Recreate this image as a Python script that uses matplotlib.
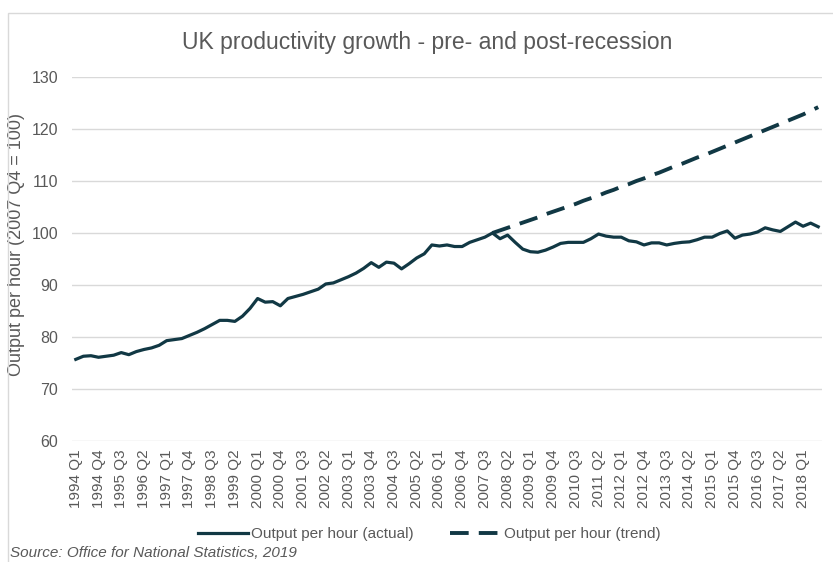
import numpy as np
import matplotlib.pyplot as plt
from matplotlib.patches import Rectangle

plt.rcParams['font.family'] = ['Liberation Sans', 'DejaVu Sans']

# quarters 1994 Q1 .. 2018 Q3
quarters = [f"{y} Q{q}" for y in range(1994, 2019) for q in range(1, 5)][:99]

# output per hour (actual), 2007 Q4 = 100
actual = [
    75.7, 76.3, 76.4, 76.1,   # 1994
    76.3, 76.5, 77.0, 76.6,   # 1995
    77.2, 77.6, 77.9, 78.4,   # 1996
    79.3, 79.5, 79.7, 80.3,   # 1997
    80.9, 81.6, 82.4, 83.2,   # 1998
    83.2, 83.0, 84.0, 85.5,   # 1999
    87.4, 86.7, 86.8, 86.0,   # 2000
    87.4, 87.8, 88.2, 88.7,   # 2001
    89.2, 90.2, 90.4, 91.0,   # 2002
    91.6, 92.3, 93.2, 94.3,   # 2003
    93.4, 94.4, 94.2, 93.1,   # 2004
    94.1, 95.2, 96.0, 97.7,   # 2005
    97.5, 97.7, 97.4, 97.4,   # 2006
    98.2, 98.7, 99.2, 100.0,  # 2007
    98.9, 99.6, 98.2, 96.9,   # 2008
    96.4, 96.3, 96.7, 97.3,   # 2009
    98.0, 98.2, 98.2, 98.2,   # 2010
    98.9, 99.8, 99.4, 99.2,   # 2011
    99.2, 98.5, 98.3, 97.7,   # 2012
    98.1, 98.1, 97.7, 98.0,   # 2013
    98.2, 98.3, 98.7, 99.2,   # 2014
    99.2, 99.9, 100.4, 99.0,  # 2015
    99.6, 99.8, 100.2, 101.0, # 2016
    100.6, 100.3, 101.2, 102.1, # 2017
    101.3, 101.9, 101.2,      # 2018
]

# pre-recession trend, from 2007 Q4 onwards
trend_start = "2007 Q4"
trend = [
    100.0, 100.5, 101.0, 101.5, 102.0, 102.5, 103.0, 103.6, 104.1, 104.6,
    105.1, 105.6, 106.2, 106.7, 107.2, 107.8, 108.3, 108.9, 109.4, 110.0,
    110.5, 111.1, 111.6, 112.2, 112.8, 113.3, 113.9, 114.5, 115.0, 115.6,
    116.2, 116.8, 117.4, 118.0, 118.6, 119.2, 119.8, 120.4, 121.0, 121.6,
    122.2, 122.8, 123.5, 124.2,
]

col = "#113844"
grey = "#595959"

fig = plt.figure(figsize=(8.33, 5.62), dpi=100)
ax = fig.add_axes([72/833, 1 - 441/562, 750/833, 364/562])

x = np.arange(len(quarters))
t0 = quarters.index(trend_start)
xt = np.arange(t0, t0 + len(trend))

ax.plot(x, actual, color=col, lw=2.3, label="Output per hour (actual)")
ax.plot(xt, trend, color=col, lw=2.8, ls=(0, (4.8, 2.6)),
        label="Output per hour (trend)")

ax.set_xlim(-0.5, len(quarters) - 0.5)
ax.set_ylim(60, 130)
ax.set_yticks(range(60, 131, 10))
ax.set_xticks(x[::3])
ax.set_xticklabels(quarters[::3], rotation=90, fontsize=11, color=grey)
ax.tick_params(axis="y", labelsize=11.5, labelcolor=grey, pad=10)
ax.tick_params(length=0)
ax.tick_params(axis="x", pad=6)
ax.grid(axis="y", color="#d9d9d9", lw=1)
ax.set_axisbelow(True)
for s in ax.spines.values():
    s.set_visible(False)

ax.set_ylabel("Output per hour (2007 Q4 = 100)", fontsize=13, color=grey)
ax.yaxis.set_label_coords(-0.062, 0.54)
fig.text(0.513, 1 - 42/562, "UK productivity growth - pre- and post-recession",
         ha="center", va="center", fontsize=16.5, color=grey)

ax.legend(loc="center", bbox_to_anchor=(0.515, 1 - 534/562), bbox_transform=fig.transFigure,
          ncol=2, frameon=False, fontsize=11, labelcolor=grey,
          handlelength=3.3, columnspacing=2.4, handletextpad=0.2)

fig.text(10/833, 1 - 553/562, "Source: Office for National Statistics, 2019",
         ha="left", va="center", fontsize=11, color=grey, style="italic")

fig.patches.append(Rectangle((8/833, -0.05), 1.0, 1 - 13/562 + 0.05,
                             transform=fig.transFigure, fill=False,
                             edgecolor="#d9d9d9", lw=1))

plt.savefig("out.png", dpi=100)
